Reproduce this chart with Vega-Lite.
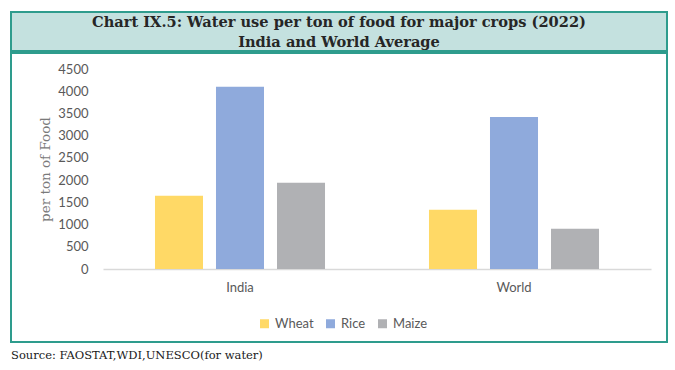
{
  "$schema": "https://vega.github.io/schema/vega-lite/v6.json",
  "padding": {"left": 10, "top": 11, "right": 8, "bottom": 0},
  "background": "white",
  "spacing": 0,
  "title": {
    "text": "Source: FAOSTAT,WDI,UNESCO(for water)",
    "orient": "bottom",
    "anchor": "start",
    "frame": "group",
    "font": "DejaVu Serif",
    "fontSize": 11.5,
    "fontWeight": "normal",
    "color": "#1a1a1a",
    "offset": 7
  },
  "config": {"view": {"stroke": null}},
  "vconcat": [
    {
      "width": 656,
      "height": 39,
      "view": {"fill": "#c4e1df", "stroke": "#2e9c8d", "strokeWidth": 2},
      "data": {"values": [
        {"line": "Chart IX.5: Water use per ton of food for major crops (2022)"},
        {"line": "India and World Average"}
      ]},
      "mark": {"type": "text", "font": "DejaVu Serif", "fontWeight": "bold", "fontSize": 14.6, "color": "#262626", "baseline": "middle", "dy": 1.5},
      "encoding": {
        "y": {"field": "line", "type": "nominal", "sort": null, "axis": null},
        "text": {"field": "line"}
      }
    },
    {
      "width": 656,
      "height": 289,
      "view": {"fill": "white", "stroke": "#2e9c8d", "strokeWidth": 2},
      "data": {"values": [
        {"region": "India", "crop": "Wheat", "value": 1650},
        {"region": "India", "crop": "Rice", "value": 4100},
        {"region": "India", "crop": "Maize", "value": 1940},
        {"region": "World", "crop": "Wheat", "value": 1335},
        {"region": "World", "crop": "Rice", "value": 3420},
        {"region": "World", "crop": "Maize", "value": 905}
      ]},
      "mark": {"type": "bar"},
      "encoding": {
        "x": {
          "field": "region", "type": "nominal", "sort": ["India", "World"],
          "scale": {"range": [92, 640], "paddingInner": 0, "paddingOuter": 0},
          "axis": {
            "orient": "bottom", "offset": -73, "title": null,
            "domain": true, "domainColor": "#d9d9d9", "domainWidth": 1.5,
            "ticks": false, "labelAngle": 0, "labelPadding": 12,
            "labelFont": "Lato", "labelFontSize": 13, "labelColor": "#595959"
          }
        },
        "xOffset": {
          "field": "crop", "type": "nominal", "sort": ["Wheat", "Rice", "Maize"],
          "scale": {"paddingInner": 0.213, "paddingOuter": 0.852}
        },
        "y": {
          "field": "value", "type": "quantitative",
          "scale": {"domain": [0, 4500], "range": [216, 16], "nice": false},
          "axis": {
            "orient": "left", "offset": -92, "format": "d",
            "values": [0, 500, 1000, 1500, 2000, 2500, 3000, 3500, 4000, 4500],
            "domain": false, "ticks": false, "grid": false,
            "labelPadding": 15, "labelFont": "Lato", "labelFontSize": 13, "labelColor": "#595959",
            "title": "per ton of Food", "titleFont": "DejaVu Serif", "titleFontSize": 13.5,
            "titleFontWeight": "normal", "titleColor": "#7a7a7a",
            "titleX": -58, "titleY": 116, "titleAngle": -90,
            "titleAlign": "center", "titleBaseline": "middle"
          }
        },
        "color": {
          "field": "crop", "type": "nominal", "sort": ["Wheat", "Rice", "Maize"],
          "scale": {"domain": ["Wheat", "Rice", "Maize"], "range": ["#FFD966", "#8FAADC", "#B0B1B4"]},
          "legend": {
            "orient": "none", "legendX": 247, "legendY": 305,
            "direction": "horizontal", "title": null,
            "symbolType": "square", "symbolSize": 81, "symbolStrokeWidth": 0, "symbolOpacity": 1,
            "labelFont": "Lato", "labelFontSize": 13, "labelColor": "#595959",
            "columnPadding": 10, "labelOffset": 4
          }
        }
      }
    }
  ]
}
